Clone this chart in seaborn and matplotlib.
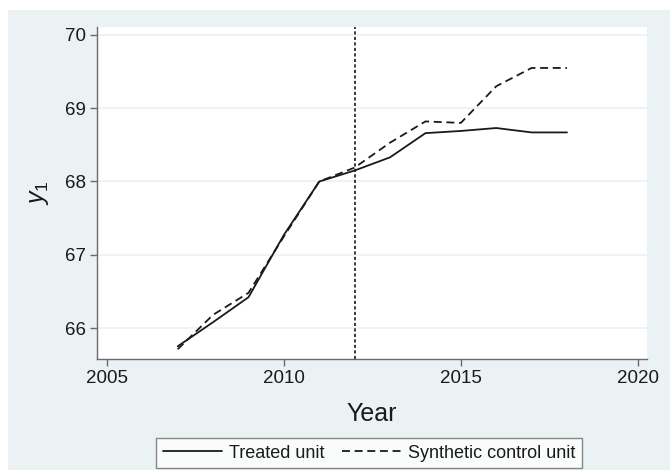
import matplotlib
matplotlib.use("Agg")
import matplotlib.pyplot as plt
from matplotlib.patches import Rectangle
import pandas as pd
import seaborn as sns

years = [2007, 2008, 2009, 2010, 2011, 2012, 2013, 2014, 2015, 2016, 2017, 2018]
treated = [65.75, 66.08, 66.42, 67.27, 68.00, 68.15, 68.33, 68.66, 68.69, 68.73, 68.67, 68.67]
synthetic = [65.71, 66.18, 66.48, 67.25, 68.00, 68.19, 68.53, 68.82, 68.80, 69.30, 69.55, 69.55]
labels = ["Treated unit", "Synthetic control unit"]
x_ticks = [2005, 2010, 2015, 2020]
y_ticks = [66, 67, 68, 69, 70]
treatment_year = 2012

df = pd.DataFrame({
    "Year": years * 2,
    "y1": treated + synthetic,
    "Unit": [labels[0]] * len(years) + [labels[1]] * len(years),
})

sns.set_theme(style="white")
plt.rcParams["font.family"] = ["Liberation Sans", "DejaVu Sans"]
plt.rcParams["mathtext.fontset"] = "custom"
plt.rcParams["mathtext.it"] = "Liberation Sans:italic"
plt.rcParams["mathtext.rm"] = "Liberation Sans"

ink = "#1a1a1a"
axis_gray = "#6b6b6b"
bg = "#eaf2f3"
dash = (0, (4.4, 2.6))

fig = plt.figure(figsize=(6.7, 4.7), dpi=100, facecolor="white")
fig.patches.append(Rectangle((8 / 670, 0), 1, 1 - 10 / 470, transform=fig.transFigure,
                             facecolor=bg, edgecolor="none", zorder=-10))
ax = fig.add_axes([97 / 670, 1 - 359 / 470, (647 - 97) / 670, (359 - 27) / 470])
ax.set_facecolor("white")

sns.lineplot(data=df, x="Year", y="y1", style="Unit", style_order=labels,
             dashes={labels[0]: "", labels[1]: (4.4, 2.6)},
             color=ink, linewidth=1.3, ax=ax, legend=False)

ax.axvline(treatment_year, color=ink, linewidth=1.2, linestyle=(0, (1.9, 1.4)))

ax.set_xlim(2004.72, 2020.26)
ax.set_ylim(65.577, 70.109)
ax.set_xticks(x_ticks)
ax.set_yticks(y_ticks)
ax.yaxis.grid(True, color=bg, linewidth=1.2)
ax.set_axisbelow(True)

for side in ["top", "right"]:
    ax.spines[side].set_visible(False)
for side in ["left", "bottom"]:
    ax.spines[side].set_color(axis_gray)
    ax.spines[side].set_linewidth(1.0)

ax.tick_params(axis="both", direction="out", length=5, width=1.0, color=axis_gray,
               labelsize=13.5, labelcolor=ink, pad=3, left=True, bottom=True)

ax.set_xlabel("Year", fontsize=18, color=ink, labelpad=11)
ax.set_ylabel(r"$\mathit{y}_{1}$", fontsize=18, color=ink, labelpad=10)

handles = [
    plt.Line2D([], [], color=ink, linewidth=1.3),
    plt.Line2D([], [], color=ink, linewidth=1.3, linestyle=dash),
]
leg = fig.legend(handles, labels, loc="center", bbox_to_anchor=(369 / 670, 1 - 453 / 470),
                 ncol=2, frameon=True, fancybox=False, fontsize=13, handlelength=3.3,
                 columnspacing=1.0, handletextpad=0.35, borderpad=0.35, borderaxespad=0)
leg.get_frame().set_edgecolor(axis_gray)
leg.get_frame().set_linewidth(1.0)
leg.get_frame().set_facecolor("white")
for t in leg.get_texts():
    t.set_color(ink)

fig.savefig("out.png", dpi=100, facecolor=fig.get_facecolor())
